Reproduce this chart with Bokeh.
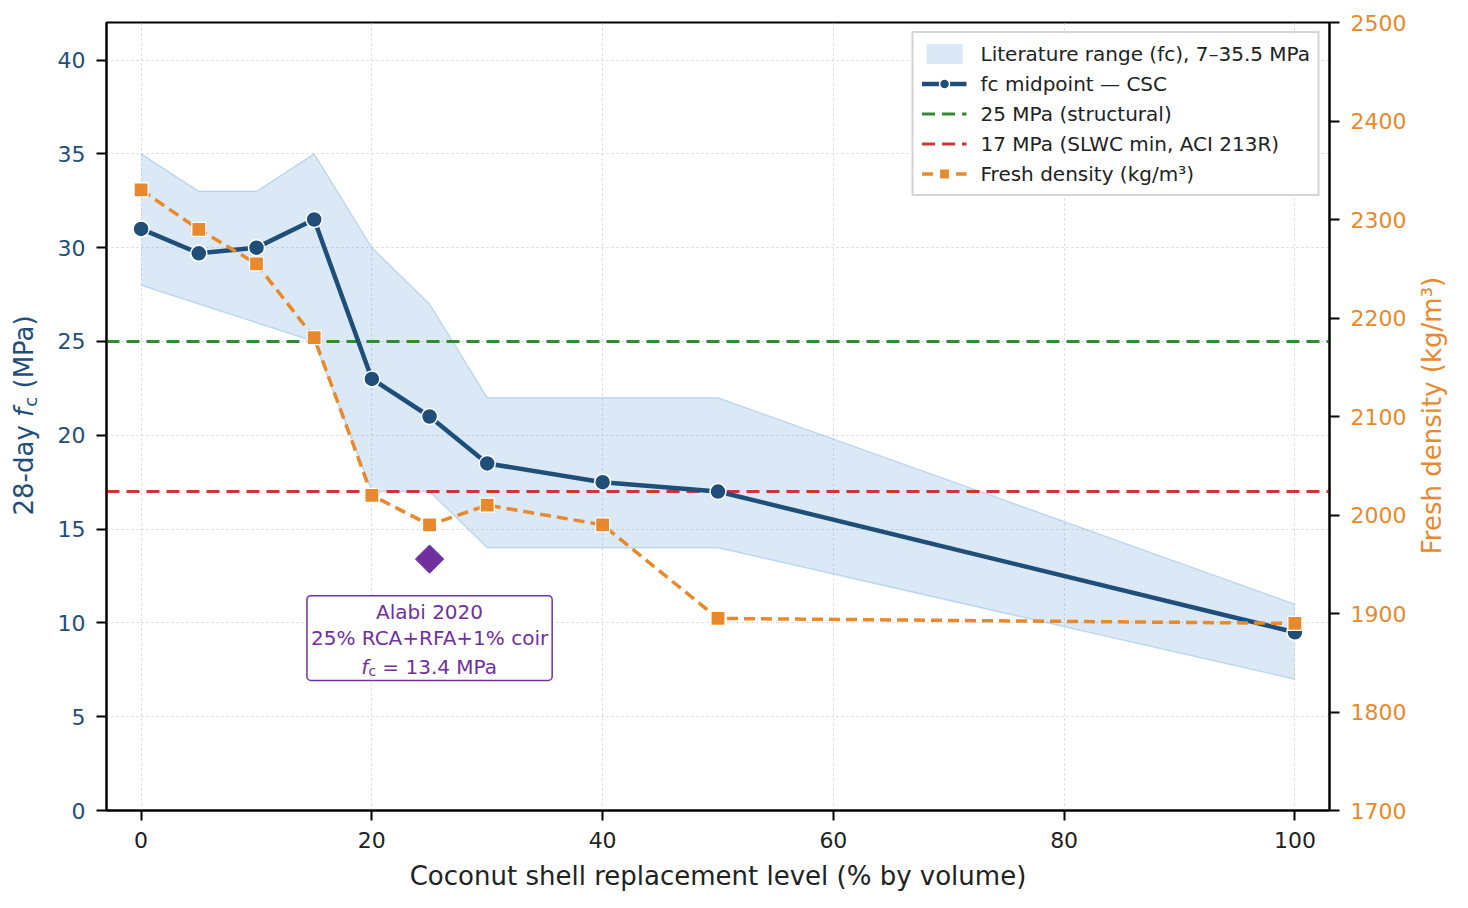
import numpy as np
from bokeh.plotting import figure
from bokeh.layouts import row
from bokeh.models import Range1d, LinearAxis, Legend, LegendItem, Label, SingleIntervalTicker
from bokeh.embed import file_html
from bokeh.resources import INLINE

# values
replacement = [0, 5, 10, 15, 20, 25, 30, 40, 50, 100]
fc_mid = [31.0, 29.7, 30.0, 31.5, 23.0, 21.0, 18.5, 17.5, 17.0, 9.5]
fc_high = [35, 33, 33, 35, 30, 27, 22, 22, 22, 11]
fc_low = [28, 27, 26, 25, 17, 17, 14, 14, 14, 7]
density = [2330, 2290, 2255, 2180, 2020, 1990, 2010, 1990, 1895, 1890]
structural_fc = 25
slwc_fc = 17
alabi_x = [25]
alabi_fc = [13.4]

NAVY = "#1f4e79"
ORANGE = "#e8892b"
GREEN = "#2e8b2e"
RED = "#d03535"
BAND = "#5b9bd5"
PURPLE = "#7030a0"
FONT = "DejaVu Sans"

H = 900
TOP, BOTTOM = 22, 90

p = figure(width=1362, height=H, x_range=Range1d(-3, 103), y_range=Range1d(0, 42),
           output_backend="svg", toolbar_location=None,
           min_border_left=56, min_border_right=83, min_border_top=TOP, min_border_bottom=BOTTOM)
p.extra_y_ranges = {"dens": Range1d(1700, 2500)}
p.outline_line_color = "black"
p.outline_line_width = 2

# literature band
band = p.varea(x=replacement, y1=fc_low, y2=fc_high, fill_color=BAND, fill_alpha=0.22)
p.line(replacement, fc_high, line_color=BAND, line_alpha=0.3, line_width=1.5)
p.line(replacement, fc_low, line_color=BAND, line_alpha=0.3, line_width=1.5)

# threshold lines
g_line = p.hspan(y=[structural_fc], line_color=GREEN, line_width=3, line_dash="13 7")
r_line = p.hspan(y=[slwc_fc], line_color=RED, line_width=3, line_dash="13 7")

# midpoint strength
mid_l = p.line(replacement, fc_mid, line_color=NAVY, line_width=4.5)
mid_s = p.scatter(replacement, fc_mid, size=16, fill_color=NAVY, line_color="white", line_width=1.5)

# Alabi 2020 point
p.scatter(alabi_x, alabi_fc, marker="square", angle=np.pi / 4, size=20,
          fill_color=PURPLE, line_color=PURPLE)

# fresh density on right axis
den_l = p.line(replacement, density, y_range_name="dens", line_color=ORANGE, line_width=3.5, line_dash="11 6")
den_s = p.scatter(replacement, density, y_range_name="dens", marker="square", size=14,
                  fill_color=ORANGE, line_color="white", line_width=1.2)

right = LinearAxis(y_range_name="dens", ticker=SingleIntervalTicker(interval=100))
p.add_layout(right, "right")

p.xaxis.ticker = SingleIntervalTicker(interval=20)
p.yaxis[0].ticker = SingleIntervalTicker(interval=5)

for ax in [p.xaxis[0], p.yaxis[0], right]:
    ax.axis_line_width = 2
    ax.axis_line_color = "black"
    ax.major_tick_line_width = 2
    ax.major_tick_out = 10
    ax.major_tick_in = 0
    ax.minor_tick_out = 0
    ax.minor_tick_in = 0
    ax.major_label_text_font = FONT
    ax.major_label_text_font_size = "22px"
    ax.major_label_standoff = 11

p.yaxis[0].major_label_text_color = NAVY
right.major_label_text_color = ORANGE
p.xaxis.major_label_text_color = "#222222"
p.xaxis.axis_label = "Coconut shell replacement level (% by volume)"
p.xaxis.axis_label_text_font = FONT
p.xaxis.axis_label_text_font_size = "26px"
p.xaxis.axis_label_text_font_style = "normal"
p.xaxis.axis_label_text_color = "#222222"
p.xaxis.axis_label_standoff = 10

for grid in [p.xgrid, p.ygrid]:
    grid.grid_line_color = "#d5d5d5"
    grid.grid_line_dash = "2 3"
    grid.grid_line_width = 1


def add_text(fig, text, x, y, size, color, units="screen", style="normal", angle=0,
             align="left", baseline="alphabetic", **kw):
    fig.add_layout(Label(x=x, y=y, x_units=units, y_units=units, text=text, angle=angle,
                         text_font=FONT, text_font_size=size, text_font_style=style,
                         text_color=color, text_align=align, text_baseline=baseline, **kw))


def label_strip(width):
    f = figure(width=width, height=H, x_range=Range1d(0, 1), y_range=Range1d(0, 1),
               output_backend="svg", toolbar_location=None, x_axis_type=None, y_axis_type=None,
               min_border_left=0, min_border_right=0, min_border_top=TOP, min_border_bottom=BOTTOM)
    f.outline_line_color = None
    f.xgrid.visible = False
    f.ygrid.visible = False
    return f


# left axis label: 28-day f_c (MPa), read bottom to top
left_strip = label_strip(50)
add_text(left_strip, "28-day", 23.5, 295, "26px", NAVY, angle=np.pi / 2)
add_text(left_strip, "f", 23.5, 393.6, "26px", NAVY, style="italic", angle=np.pi / 2)
add_text(left_strip, "c", 29.5, 403.8, "18px", NAVY, angle=np.pi / 2)
add_text(left_strip, "(MPa)", 23.5, 422, "26px", NAVY, angle=np.pi / 2)

# right axis label
right_strip = label_strip(48)
add_text(right_strip, "Fresh density (kg/m³)", 19.5, 395, "26px", ORANGE, angle=np.pi / 2, align="center")

# annotation box for Alabi 2020
p.add_layout(Label(x=alabi_x[0], y=alabi_fc[0], y_offset=-79,
                   text="Alabi 2020\n25% RCA+RFA+1% coir\n\u00a0",
                   text_font=FONT, text_font_size="20px", text_color=PURPLE,
                   text_align="center", text_baseline="middle", text_line_height=1.1,
                   border_line_color=PURPLE, border_line_width=1.5,
                   background_fill_color="white", padding=4, border_radius=4))
add_text(p, "f", alabi_x[0], alabi_fc[0], "20px", PURPLE, units="data", style="italic",
         x_offset=-68.3, y_offset=-108)
add_text(p, "c", alabi_x[0], alabi_fc[0], "14px", PURPLE, units="data",
         x_offset=-61.0, y_offset=-112)
add_text(p, "= 13.4 MPa", alabi_x[0], alabi_fc[0], "20px", PURPLE, units="data",
         x_offset=-47.2, y_offset=-108)

legend = Legend(items=[
    LegendItem(label="Literature range (fc), 7–35.5 MPa", renderers=[band]),
    LegendItem(label="fc midpoint — CSC", renderers=[mid_l, mid_s]),
    LegendItem(label="25 MPa (structural)", renderers=[g_line]),
    LegendItem(label="17 MPa (SLWC min, ACI 213R)", renderers=[r_line]),
    LegendItem(label="Fresh density (kg/m³)", renderers=[den_l, den_s]),
], location="top_right")
legend.margin = 9
legend.padding = 8
legend.spacing = 5
legend.glyph_width = 45
legend.glyph_height = 25
legend.label_height = 25
legend.label_standoff = 14
legend.label_text_font = FONT
legend.label_text_font_size = "20px"
legend.label_text_color = "#222222"
legend.border_line_color = "#aaaaaa"
legend.border_line_width = 2
legend.background_fill_alpha = 0.9
p.add_layout(legend)

layout = row(left_strip, p, right_strip)
open("out.html", "w").write(file_html(layout, INLINE))
